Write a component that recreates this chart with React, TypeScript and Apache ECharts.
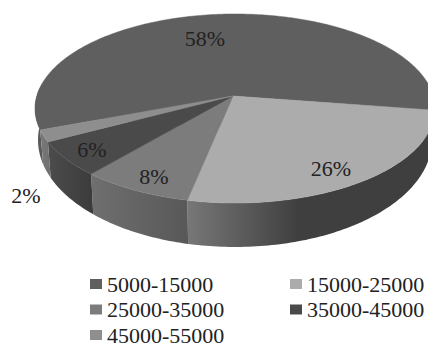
import React, { useEffect, useRef } from "react";
import * as echarts from "echarts";

// Income bands and their shares of the total, in percent.
const categories = ["5000-15000", "15000-25000", "25000-35000", "35000-45000", "45000-55000"];
const shares = [58, 26, 8, 6, 2];
const topColors = ["#5f5f5f", "#acacac", "#7c7c7c", "#4a4a4a", "#8e8e8e"];
const sideLeftColors = ["#5a5a5a", "#777777", "#6f6f6f", "#4c4c4c", "#7a7a7a"];
const sideRightColors = ["#5a5a5a", "#3f3f3f", "#585858", "#3b3b3b", "#6e6e6e"];
const labelAnchors: [number, number][] = [
  [205, 38],
  [331, 168],
  [154, 176],
  [92, 149],
  [26, 195],
];

// Perspective disc: the rim of the top face, the rim of the base, and the hub.
const width = 428;
const height = 343;
const hub = [233, 96];
const topRim = { cx: 235, cy: 108.5, rx: 200, ry: 94.5 };
const baseRim = { cx: 235, cy: 140, rx: 197, ry: 107 };
const startDeg = 159.7;
const skew = 0.065;

// Moebius map of the unit circle: takes a true slice angle to its foreshortened rim angle.
function rimAngle(theta: number): number {
  const zr = Math.cos(theta);
  const zi = Math.sin(theta);
  const nr = zr;
  const ni = zi - skew;
  const dr = 1 - skew * zi;
  const di = skew * zr;
  return Math.atan2(ni * dr - nr * di, nr * dr + ni * di);
}

const rimPoint = (rim: typeof topRim, t: number): number[] => [
  rim.cx + rim.rx * Math.cos(t),
  rim.cy + rim.ry * Math.sin(t),
];

function sliceAngles(index: number): number[] {
  const total = shares.reduce((a, b) => a + b, 0);
  const before = shares.slice(0, index).reduce((a, b) => a + b, 0);
  const from = startDeg + (before / total) * 360;
  const to = from + (shares[index] / total) * 360;
  const angles: number[] = [];
  for (let d = from; d < to; d += 1) angles.push(rimAngle((d * Math.PI) / 180));
  angles.push(rimAngle((to * Math.PI) / 180));
  return angles;
}

function renderSlice(index: number) {
  const angles = sliceAngles(index);
  const top = angles.map((t) => rimPoint(topRim, t));
  // Only the near half of the wall can be seen.
  const near = angles.filter((t) => t >= -0.01 && t <= 3.4 || t <= -2.9);
  const wallTop = near.map((t) => rimPoint(topRim, t));
  const wallBase = near.map((t) => rimPoint(baseRim, t)).reverse();
  const children: any[] = [];
  if (near.length > 1) {
    children.push({
      type: "polygon",
      shape: { points: wallTop.concat(wallBase) },
      style: {
        fill: new echarts.graphic.LinearGradient(0, 0, 1, 0, [
          { offset: 0, color: sideLeftColors[index] },
          { offset: index === 1 ? 0.45 : 1, color: sideRightColors[index] },
          { offset: 1, color: sideRightColors[index] },
        ]),
      },
    });
  }
  children.push({
    type: "polygon",
    shape: { points: [hub].concat(top) },
    style: { fill: topColors[index], stroke: topColors[index], lineWidth: 0.5 },
  });
  return { type: "group", children };
}

const legendText = {
  fontFamily: "Liberation Serif",
  fontSize: 22,
  color: "#222222",
  padding: [0, 0, 0, 0],
};

const legendBase = {
  orient: "vertical" as const,
  top: 273,
  height: 120,
  itemWidth: 12,
  itemHeight: 10,
  itemGap: 3.5,
  itemStyle: { borderWidth: 0 },
  selectedMode: false,
  icon: "rect",
  padding: 0,
  textStyle: legendText,
};

export default function App() {
  const ref = useRef<HTMLDivElement>(null);
  useEffect(() => {
    document.body.style.margin = "0";
    const chart = echarts.init(ref.current!, null, { renderer: "svg" });
    chart.setOption({
      animation: false,
      backgroundColor: "#ffffff",
      legend: [
        { ...legendBase, left: 90, data: [categories[0], categories[2], categories[4]] },
        { ...legendBase, left: 290, data: [categories[1], categories[3]] },
      ],
      series: categories.map((name, i) => ({
        type: "custom",
        name,
        coordinateSystem: "none",
        itemStyle: { color: topColors[i] },
        data: [shares[i]],
        renderItem: () => renderSlice(i),
      })),
      graphic: shares.map((v, i) => ({
        type: "text",
        z: 10,
        x: labelAnchors[i][0],
        y: labelAnchors[i][1],
        style: {
          text: `${v}%`,
          fontFamily: "Liberation Serif",
          fontSize: 22,
          fill: "#222222",
          align: "center",
          verticalAlign: "middle",
        },
      })),
    });
    return () => chart.dispose();
  }, []);
  return <div ref={ref} style={{ position: "fixed", left: 0, top: 0, width, height }} />;
}
